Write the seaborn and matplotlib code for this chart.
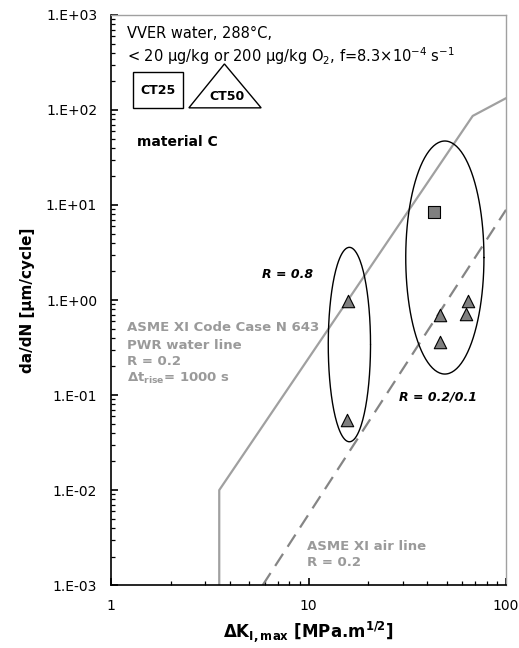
import numpy as np
import pandas as pd
import matplotlib
matplotlib.use("Agg")
import matplotlib.pyplot as plt
from matplotlib.patches import Rectangle, Polygon
import seaborn as sns

# ── data ────────────────────────────────────────────────────────────────────
ct25_dk = [43.2]
ct25_dadn = [8.5]
ct50_dk = [15.8, 15.6, 46.3, 46.3, 64.0, 62.7]
ct50_dadn = [0.97, 0.055, 0.70, 0.36, 0.97, 0.71]

# ASME XI Code Case N 643, PWR water line (R = 0.2)
pwr_dk = [3.53, 3.53, 67.8, 100.0]
pwr_dadn = [0.001, 0.01, 86.5, 133.0]

# ASME XI air line (R = 0.2)
air_dk = [5.86, 100.0]
air_dadn = [0.001, 8.9]

# ellipses grouping the R ratios: centre (dK, da/dN), half widths in decades
ell_centre_dk = [16.1, 49.0]
ell_centre_dadn = [0.34, 2.8]
ell_half_x = [0.107, 0.198]
ell_half_y = [1.023, 1.226]

y_ticks = [1e-3, 1e-2, 1e-1, 1e0, 1e1, 1e2, 1e3]
y_ticklabels = ["1.E-03", "1.E-02", "1.E-01", "1.E+00", "1.E+01", "1.E+02", "1.E+03"]
x_ticks = [1, 10, 100]
x_ticklabels = ["1", "10", "100"]

pwr_label = ["ASME XI Code Case N 643", "PWR water line", "R = 0.2",
             r"Δt$_{\mathbf{rise}}$= 1000 s"]
air_label = ["ASME XI air line", "R = 0.2"]

grey_line = "#a0a0a0"
grey_dash = "#858585"
grey_text = "#9a9a9a"

sns.set_theme(style="white", rc={"text.color": "black", "axes.labelcolor": "black",
                                 "xtick.color": "black", "ytick.color": "black"})
plt.rcParams["font.family"] = ["DejaVu Sans"]
plt.rcParams["mathtext.fontset"] = "dejavusans"

fig = plt.figure(figsize=(5.19, 6.48), dpi=100)
ax = fig.add_axes([0.214, 0.097, 0.761, 0.880])
ax.set_xscale("log")
ax.set_yscale("log")

# reference lines
pwr = pd.DataFrame({"dk": pwr_dk, "dadn": pwr_dadn})
sns.lineplot(data=pwr, x="dk", y="dadn", sort=False, estimator=None,
             color=grey_line, linewidth=1.6, ax=ax)
air = pd.DataFrame({"dk": air_dk, "dadn": air_dadn})
sns.lineplot(data=air, x="dk", y="dadn", sort=False, estimator=None,
             color=grey_dash, linewidth=1.6, ax=ax)
ax.lines[-1].set_dashes([6.5, 3.8])

# ellipses (drawn in log space)
t = np.linspace(0, 2 * np.pi, 200)
for cx, cy, hx, hy in zip(ell_centre_dk, ell_centre_dadn, ell_half_x, ell_half_y):
    lx = np.log10(cx) + hx * np.cos(t)
    ly = np.log10(cy) + hy * np.sin(t)
    ax.plot(10 ** lx, 10 ** ly, color="black", linewidth=1.0)

# data points
sq = pd.DataFrame({"dk": ct25_dk, "dadn": ct25_dadn})
sns.scatterplot(data=sq, x="dk", y="dadn", marker="s", s=70, color="#7f7f7f",
                edgecolor="black", linewidth=0.8, ax=ax, zorder=5)
tri = pd.DataFrame({"dk": ct50_dk, "dadn": ct50_dadn})
sns.scatterplot(data=tri, x="dk", y="dadn", marker="^", s=80, color="#7f7f7f",
                edgecolor="black", linewidth=0.8, ax=ax, zorder=5)

ax.set_xlim(1, 100)
ax.set_ylim(1e-3, 1e3)
ax.set_yticks(y_ticks)
ax.set_yticklabels(y_ticklabels)
ax.set_xticks(x_ticks)
ax.set_xticklabels(x_ticklabels)
ax.tick_params(axis="both", which="major", direction="in", length=5,
               width=1.2, color="black", labelsize=10, pad=10, left=True, bottom=True)
ax.tick_params(axis="both", which="minor", direction="in", length=3.2,
               width=0.9, color="black", left=True, bottom=True)

for side in ["left", "bottom"]:
    ax.spines[side].set_color("black")
    ax.spines[side].set_linewidth(1.2)
for side in ["top", "right"]:
    ax.spines[side].set_color(grey_line)
    ax.spines[side].set_linewidth(1.0)

ax.set_xlabel(r"ΔK$_{\mathbf{I,max}}$ [MPa.m$^{\mathbf{1/2}}$]",
              fontsize=12, fontweight="bold", labelpad=4)
ax.set_ylabel("da/dN [µm/cycle]", fontsize=11, fontweight="bold", labelpad=8)

tr = ax.transAxes
ax.text(0.04, 0.960, "VVER water, 288°C,", transform=tr, fontsize=10.5,
        va="baseline", ha="left")
ax.text(0.04, 0.918,
        r"< 20 µg/kg or 200 µg/kg O$_{2}$, f=8.3×10$^{-4}$ s$^{-1}$",
        transform=tr, fontsize=10.5, va="baseline", ha="left")

ax.add_patch(Rectangle((0.055, 0.837), 0.126, 0.063, transform=tr,
                       fill=False, edgecolor="black", linewidth=1.0))
ax.text(0.118, 0.868, "CT25", transform=tr, fontsize=9, fontweight="bold",
        ha="center", va="center")
ax.add_patch(Polygon([[0.197, 0.837], [0.380, 0.837], [0.287, 0.914]],
                     closed=True, transform=tr, fill=False,
                     edgecolor="black", linewidth=1.0))
ax.text(0.293, 0.857, "CT50", transform=tr, fontsize=9, fontweight="bold",
        ha="center", va="center")

ax.text(0.065, 0.777, "material C", transform=tr, fontsize=10,
        fontweight="bold", ha="left", va="center")

ax.text(0.511, 0.544, "R = 0.8", transform=tr, fontsize=9,
        fontweight="bold", style="italic", ha="right", va="center")
ax.text(0.729, 0.330, "R = 0.2/0.1", transform=tr, fontsize=9,
        fontweight="bold", style="italic", ha="left", va="center")

for txt, yy in zip(pwr_label, [0.451, 0.421, 0.392, 0.362]):
    ax.text(0.04, yy, txt, transform=tr, fontsize=9.5, fontweight="bold",
            color=grey_text, ha="left", va="center")
for txt, yy in zip(air_label, [0.067, 0.039]):
    ax.text(0.497, yy, txt, transform=tr, fontsize=9.5, fontweight="bold",
            color=grey_text, ha="left", va="center")

plt.savefig("out.png", dpi=100)
plt.close()
